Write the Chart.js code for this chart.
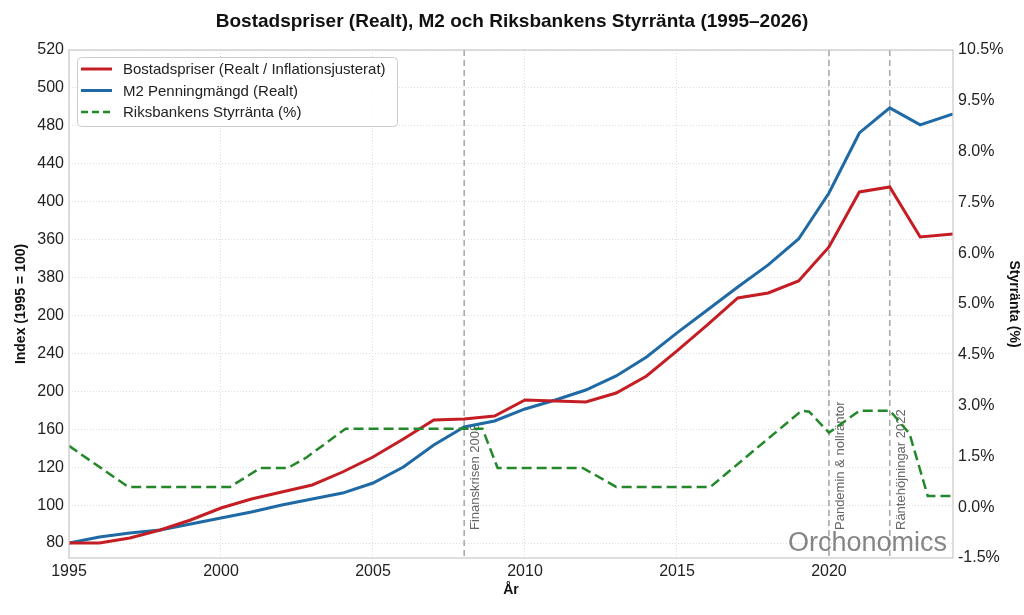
<!DOCTYPE html>
<html>
<head>
<meta charset="utf-8">
<script src="https://cdn.jsdelivr.net/npm/chart.js@4.4.1/dist/chart.umd.min.js"></script>
<style>
  html, body { margin: 0; padding: 0; background: #fff; }
</style>
</head>
<body>
<canvas id="chart" width="1024" height="615"></canvas>
<script>
// yearly points (last one is early 2024)
const years = [1995, 1996, 1997, 1998, 1999, 2000, 2001, 2002, 2003, 2004, 2005, 2006, 2007, 2008, 2009,
  2010, 2011, 2012, 2013, 2014, 2015, 2016, 2017, 2018, 2019, 2020, 2021, 2022, 2023, 2024.08];
const housing = [80, 80, 85.3, 93.7, 104.3, 116.9, 126.4, 133.8, 141.2, 154.9, 170.7, 189.7, 209.8, 210.8, 214.0,
  230.9, 229.8, 228.7, 238.2, 256.2, 282.6, 310.0, 338.5, 343.7, 356.4, 392.3, 450.3, 455.5, 402.8, 405.9];
const m2 = [80, 86.3, 90.5, 93.7, 100.0, 106.4, 112.7, 120.1, 126.4, 132.7, 143.3, 160.2, 183.4, 202.4, 208.7,
  221.4, 230.9, 241.4, 256.2, 276.2, 301.6, 325.8, 350.1, 373.3, 400.7, 449.2, 512.5, 538.9, 521.0, 532.5];

// policy rate, breakpoints
const rateYears = [1995, 1996.95, 2000.3, 2001.3, 2002.2, 2002.8, 2004.1, 2008.6, 2009.1, 2011.9, 2013.0,
  2016.1, 2019.1, 2019.35, 2020.0, 2021.0, 2022.0, 2022.15, 2022.65, 2023.25, 2024.08];
const rateValues = [1.81, 0.60, 0.60, 1.16, 1.16, 1.46, 2.32, 2.32, 1.16, 1.16, 0.60,
  0.60, 2.85, 2.82, 2.20, 2.85, 2.85, 2.70, 2.17, 0.33, 0.33];

const indexTicks = [80, 120, 160, 200, 240, 280, 320, 360, 400, 440, 480, 520, 560, 600];
const indexLabels = ['80', '100', '120', '160', '200', '240', '200', '380', '360', '400', '440', '480', '500', '520'];
const rateTicks = [-1.5, 0, 1.5, 3, 4.5, 6, 7.5, 9, 10.5, 12, 13.5];
const rateLabels = ['-1.5%', '0.0%', '1.5%', '3.0%', '4.5%', '5.0%', '6.0%', '7.5%', '8.0%', '9.5%', '10.5%'];
const yearTicks = [1995, 2000, 2005, 2010, 2015, 2020];

const events = [2008, 2020, 2022];
const eventLabels = ['Finanskrisen 2008', 'Pandemin & nollräntor', 'Räntehöjningar 2022'];

const FONT = '"Liberation Sans", Arial, sans-serif';
Chart.defaults.font.family = FONT;
Chart.defaults.color = '#222';

const RED = '#c41e24';
const BLUE = '#1f6aa5';
const GREEN = '#22882a';

const legendItems = [
  { label: 'Bostadspriser (Realt / Inflationsjusterat)', color: RED, dash: [] },
  { label: 'M2 Penningmängd (Realt)', color: BLUE, dash: [] },
  { label: 'Riksbankens Styrränta (%)', color: GREEN, dash: [7, 4] }
];

const decor = {
  id: 'decor',
  beforeDatasetsDraw(chart) {
    const { ctx, chartArea: a, scales: { x } } = chart;
    ctx.save();
    events.forEach((yr, i) => {
      const px = x.getPixelForValue(yr);
      ctx.strokeStyle = 'rgba(150,150,150,0.8)';
      ctx.lineWidth = 1.6;
      ctx.setLineDash([6, 4]);
      ctx.beginPath();
      ctx.moveTo(px, a.top);
      ctx.lineTo(px, a.bottom);
      ctx.stroke();
      ctx.setLineDash([]);
      ctx.save();
      ctx.translate(px + 11.5, a.bottom - 28);
      ctx.rotate(-Math.PI / 2);
      ctx.fillStyle = '#666';
      ctx.font = '13px ' + FONT;
      ctx.textAlign = 'left';
      ctx.textBaseline = 'middle';
      ctx.fillText(eventLabels[i], 0, 0);
      ctx.restore();
    });
    ctx.restore();
  },
  afterDatasetsDraw(chart) {
    const { ctx, chartArea: a } = chart;
    ctx.save();
    // watermark
    ctx.fillStyle = 'rgba(120,120,120,0.9)';
    ctx.font = '27px ' + FONT;
    ctx.textAlign = 'right';
    ctx.textBaseline = 'alphabetic';
    ctx.fillText('Orchonomics', a.right - 6, a.bottom - 7);
    // frame
    ctx.strokeStyle = '#c8c8c8';
    ctx.lineWidth = 1.2;
    ctx.strokeRect(a.left, a.top, a.right - a.left, a.bottom - a.top);
    ctx.restore();
  },
  afterDraw(chart) {
    const { ctx, chartArea: a } = chart;
    const bx = a.left + 8, by = a.top + 7, bw = 320, bh = 69;
    ctx.save();
    ctx.fillStyle = 'rgba(255,255,255,0.85)';
    ctx.strokeStyle = '#cccccc';
    ctx.lineWidth = 1;
    ctx.beginPath();
    ctx.roundRect(bx + 0.5, by + 0.5, bw, bh, 4);
    ctx.fill();
    ctx.stroke();
    ctx.font = '15px ' + FONT;
    ctx.textBaseline = 'middle';
    ctx.textAlign = 'left';
    legendItems.forEach((it, i) => {
      const cy = by + 12 + i * 21.5;
      ctx.strokeStyle = it.color;
      ctx.lineWidth = it.dash.length ? 2.5 : 3;
      ctx.setLineDash(it.dash);
      ctx.beginPath();
      ctx.moveTo(bx + 4, cy);
      ctx.lineTo(bx + 35, cy);
      ctx.stroke();
      ctx.setLineDash([]);
      ctx.fillStyle = '#222';
      ctx.fillText(it.label, bx + 46, cy + 1);
    });
    ctx.restore();
  }
};

const toPoints = (xs, ys) => xs.map((v, i) => ({ x: v, y: ys[i] }));

new Chart(document.getElementById('chart'), {
  type: 'line',
  data: {
    datasets: [
      {
        label: 'Bostadspriser (Realt / Inflationsjusterat)',
        data: toPoints(years, housing),
        borderColor: RED,
        borderWidth: 3,
        yAxisID: 'y',
        order: 2
      },
      {
        label: 'M2 Penningmängd (Realt)',
        data: toPoints(years, m2),
        borderColor: BLUE,
        borderWidth: 3,
        yAxisID: 'y',
        order: 3
      },
      {
        label: 'Riksbankens Styrränta (%)',
        data: toPoints(rateYears, rateValues),
        borderColor: GREEN,
        borderWidth: 2.5,
        borderDash: [10, 5],
        yAxisID: 'y1',
        order: 1
      }
    ]
  },
  options: {
    responsive: false,
    animation: false,
    devicePixelRatio: 1,
    elements: { point: { radius: 0 }, line: { tension: 0, fill: false } },
    layout: { padding: 0 },
    plugins: {
      legend: { display: false },
      tooltip: { enabled: false },
      title: {
        display: true,
        text: 'Bostadspriser (Realt), M2 och Riksbankens Styrränta (1995–2026)',
        color: '#111',
        font: { size: 19, weight: 'bold' },
        padding: { top: 10, bottom: 17.2 }
      }
    },
    scales: {
      x: {
        type: 'linear',
        min: 1995,
        max: 2024.08,
        afterBuildTicks: s => { s.ticks = yearTicks.map(v => ({ value: v })); },
        afterFit: s => { s.height = 57; },
        ticks: { font: { size: 16 }, padding: 4, color: '#222', callback: v => String(v) },
        grid: { color: '#dddddd', lineWidth: 1, drawTicks: false },
        border: { display: false, dash: [1, 2] },
        title: { display: true, text: 'År', color: '#111', font: { size: 14, weight: 'bold' }, padding: { top: 0, bottom: 16 } }
      },
      y: {
        type: 'linear',
        position: 'left',
        min: 64.2,
        max: 600,
        afterBuildTicks: s => { s.ticks = indexTicks.map(v => ({ value: v })); },
        afterFit: s => { s.width = 69; },
        ticks: {
          font: { size: 16 }, padding: 5, color: '#222',
          callback: v => indexLabels[indexTicks.indexOf(v)]
        },
        grid: { color: '#dddddd', lineWidth: 1, drawTicks: false },
        border: { display: false, dash: [1, 2] },
        title: { display: true, text: 'Index (1995 = 100)', color: '#111', font: { size: 14, weight: 'bold' }, padding: { top: 13, bottom: 0 } }
      },
      y1: {
        type: 'linear',
        position: 'right',
        min: -1.5,
        max: 13.5,
        afterBuildTicks: s => { s.ticks = rateTicks.map(v => ({ value: v })); },
        afterFit: s => { s.width = 71; },
        ticks: {
          font: { size: 16 }, padding: 5, color: '#222',
          callback: v => rateLabels[rateTicks.indexOf(v)]
        },
        grid: { display: false, drawTicks: false },
        border: { display: false },
        title: { display: true, text: 'Styrränta (%)', color: '#111', font: { size: 14, weight: 'bold' }, padding: { top: 2, bottom: 0 } }
      }
    }
  },
  plugins: [decor]
});
</script>
</body>
</html>
